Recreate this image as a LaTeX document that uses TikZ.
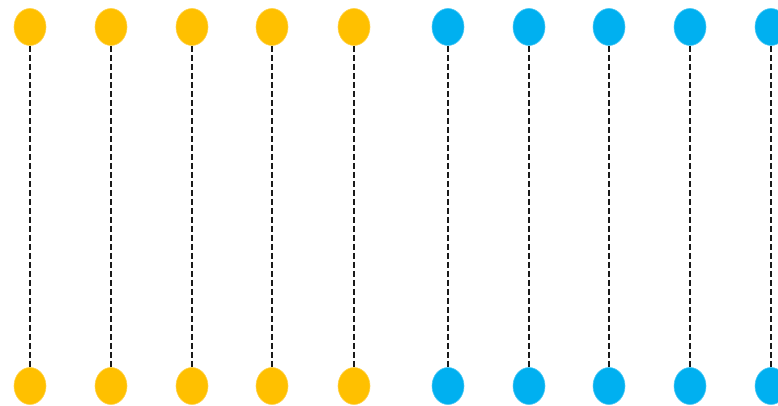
\documentclass[tikz,border=0pt]{standalone}
\usepackage{tikz}
\usetikzlibrary{positioning,shapes.geometric}
\definecolor{ink}   {HTML}{1A1A1A}
\definecolor{gold}  {HTML}{FFC000}
\definecolor{cyan}  {HTML}{00B0F0}
\tikzset{
  % --- nodes
  dot/.style    = {ellipse, minimum width=32pt, minimum height=37pt,
                   inner sep=0pt, line width=0.6pt},
  golddot/.style= {dot, fill=gold, draw=gold!70!white},
  cyandot/.style= {dot, fill=cyan, draw=cyan!70!white},
  % --- edges
  link/.style   = {draw=ink, line width=2.4pt, dash pattern=on 6pt off 3pt},
}
\begin{document}
\begin{tikzpicture}[x=1pt,y=1pt]
  \useasboundingbox (0,0) rectangle (778,406);

  % yellow pairs
  \foreach \x [count=\i] in {30,111,192,272,354} {
    \node[golddot] (gtop\i) at (\x,379) {};
    \node[golddot] (gbot\i) at (\x,20) {};
    \draw[link] (gtop\i.south) -- (gbot\i.north);
  }

  % blue pairs
  \foreach \x [count=\i] in {448,529,609,690,771} {
    \node[cyandot] (ctop\i) at (\x,379) {};
    \node[cyandot] (cbot\i) at (\x,20) {};
    \draw[link] (ctop\i.south) -- (cbot\i.north);
  }
\end{tikzpicture}
\end{document}
